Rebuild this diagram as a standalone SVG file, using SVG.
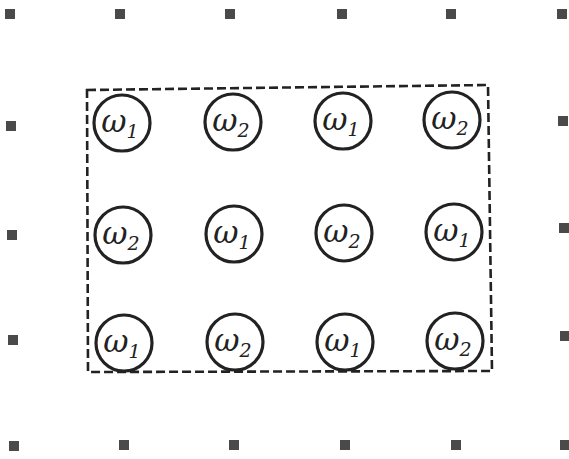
<svg xmlns="http://www.w3.org/2000/svg" width="569" height="459" viewBox="0 0 569 459">
<style>
.dot{fill:#4a4a4a}
.node circle{fill:none;stroke:#222;stroke-width:3.2}
.node text{font-family:"DejaVu Serif","Liberation Serif",serif;font-style:italic;font-size:31px;fill:#222;text-anchor:middle}
.node tspan{font-size:19px}
.frame{fill:none;stroke:#222;stroke-width:2.6;stroke-dasharray:9 4}
</style>
<rect width="569" height="459" fill="#fff"/>
<g id="dots">
<rect class="dot" x="5" y="9" width="10" height="10"/>
<rect class="dot" x="115" y="9" width="10" height="10"/>
<rect class="dot" x="225" y="9" width="10" height="10"/>
<rect class="dot" x="337" y="9" width="10" height="10"/>
<rect class="dot" x="446" y="9" width="10" height="10"/>
<rect class="dot" x="557" y="9" width="10" height="10"/>
<rect class="dot" x="6" y="121" width="10" height="10"/>
<rect class="dot" x="7" y="230" width="10" height="10"/>
<rect class="dot" x="8" y="335" width="10" height="10"/>
<rect class="dot" x="558" y="116" width="10" height="10"/>
<rect class="dot" x="559" y="223" width="10" height="10"/>
<rect class="dot" x="560" y="331" width="10" height="10"/>
<rect class="dot" x="9" y="441" width="10" height="10"/>
<rect class="dot" x="119" y="440" width="10" height="10"/>
<rect class="dot" x="229" y="440" width="10" height="10"/>
<rect class="dot" x="340" y="440" width="10" height="10"/>
<rect class="dot" x="451" y="440" width="10" height="10"/>
<rect class="dot" x="560" y="440" width="10" height="10"/>
</g>
<g id="frame">
<path class="frame" d="M87,90 L488,85 L492,371 L88,372 Z"/>
</g>
<g id="n11" class="node"><circle cx="122" cy="123" r="28"/><text x="120" y="132">ω<tspan dy="6">1</tspan></text></g>
<g id="n12" class="node"><circle cx="233" cy="122" r="28"/><text x="231" y="131">ω<tspan dy="6">2</tspan></text></g>
<g id="n13" class="node"><circle cx="343" cy="121" r="28"/><text x="341" y="130">ω<tspan dy="6">1</tspan></text></g>
<g id="n14" class="node"><circle cx="452" cy="120" r="28"/><text x="450" y="129">ω<tspan dy="6">2</tspan></text></g>
<g id="n21" class="node"><circle cx="123" cy="235" r="28"/><text x="121" y="244">ω<tspan dy="6">2</tspan></text></g>
<g id="n22" class="node"><circle cx="234" cy="234" r="28"/><text x="232" y="243">ω<tspan dy="6">1</tspan></text></g>
<g id="n23" class="node"><circle cx="344" cy="233" r="28"/><text x="342" y="242">ω<tspan dy="6">2</tspan></text></g>
<g id="n24" class="node"><circle cx="454" cy="232" r="28"/><text x="452" y="241">ω<tspan dy="6">1</tspan></text></g>
<g id="n31" class="node"><circle cx="124" cy="343" r="28"/><text x="122" y="352">ω<tspan dy="6">1</tspan></text></g>
<g id="n32" class="node"><circle cx="235" cy="342" r="28"/><text x="233" y="351">ω<tspan dy="6">2</tspan></text></g>
<g id="n33" class="node"><circle cx="345" cy="342" r="28"/><text x="343" y="351">ω<tspan dy="6">1</tspan></text></g>
<g id="n34" class="node"><circle cx="455" cy="341" r="28"/><text x="453" y="350">ω<tspan dy="6">2</tspan></text></g>
</svg>
